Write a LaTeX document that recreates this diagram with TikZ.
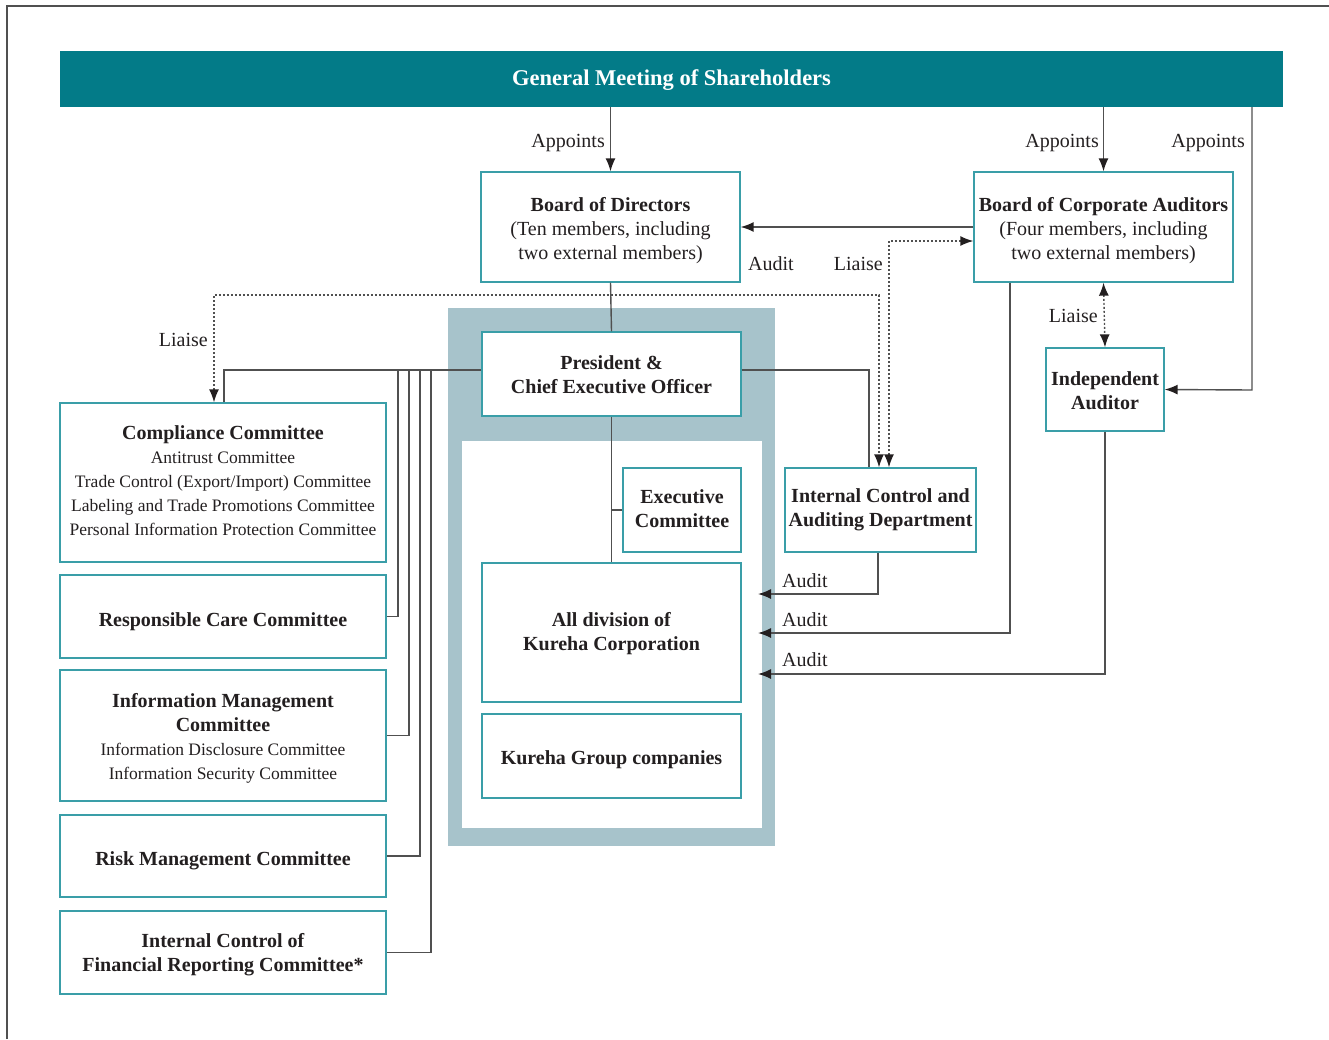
\documentclass[tikz,border=0pt]{standalone}
\usepackage{fontspec}
\setmainfont{Liberation Serif}
\usetikzlibrary{arrows.meta}
\definecolor{teal1}{HTML}{037B88}
\definecolor{boxline}{HTML}{3A9EA8}
\definecolor{conn}{HTML}{505050}
\definecolor{graybg}{HTML}{A7C3CB}
\definecolor{txt}{HTML}{231F20}
\tikzset{
  box/.style={draw=boxline, line width=1.3pt, fill=white, inner sep=0pt},
  boxtext/.style={inner sep=0pt, align=center, text=txt, font=\fontsize{20}{24}\selectfont},
  lbl/.style={text=txt, font=\fontsize{20}{24}\selectfont, inner sep=0pt},
  conline/.style={draw=conn, line width=1.4pt},
  tip/.tip={Latex[length=13pt,width=10pt,color=txt]},
  arr/.style={conline, -tip},
  darr/.style={conline, tip-tip},
  dotl/.style={dash pattern=on 2pt off 2pt},
}
\newcommand{\subc}{\fontsize{17.5}{24}\selectfont}
% \bx[shift]{name}{x,y}{width}{height}{text}
\newcommand{\bx}[6][0]{%
  \node[box, minimum width=#4pt, minimum height=#5pt] (#2) at (#3) {};
  \node[boxtext] (#2-t) at ([yshift=#1pt]#2.center) {#6};}
\begin{document}
\begin{tikzpicture}[x=1pt,y=-1pt]
\useasboundingbox (0,0) rectangle (1329,1039);
\draw[conn, line width=1.3pt] (7,1039) -- (7,6) -- (1329,6);
% background
\fill[graybg] (448,308) rectangle (775,846);
\fill[white] (462,441) rectangle (762,828);
% header
\node[fill=teal1, minimum width=1223pt, minimum height=56pt, inner sep=0pt] (gm) at (671.5,79) {};
\node[inner sep=0pt, text=white, font=\fontsize{22.5}{24}\selectfont\bfseries] (gm-t) at ([yshift=-1pt]gm.center) {General Meeting of Shareholders};
% boxes
\bx[-4]{bod}{610.5,227}{259}{110}{\textbf{Board of Directors}\\(Ten members, including\\two external members)}
\bx[-4]{bca}{1103.5,227}{259}{110}{\textbf{Board of Corporate Auditors}\\(Four members, including\\two external members)}
\bx[-1]{ia}{1105,389.5}{118}{83}{\textbf{Independent}\\\textbf{Auditor}}
\bx[-1]{pres}{611.5,374}{259}{84}{\textbf{President \&}\\\textbf{Chief Executive Officer}}
\bx[1]{exec}{682,510}{118}{84}{\textbf{Executive}\\\textbf{Committee}}
\bx[-1]{alldiv}{611.5,632.5}{259}{139}{\textbf{All division of}\\\textbf{Kureha Corporation}}
\bx[-4]{kgc}{611.5,756}{259}{84}{\textbf{Kureha Group companies}}
\bx[0]{icad}{880.5,510}{191}{84}{\textbf{Internal Control and}\\\textbf{Auditing Department}}
\bx[2]{comp}{223,482.5}{326}{159}{\textbf{Compliance Committee}\\{\subc Antitrust Committee}\\{\subc Trade Control (Export/Import) Committee}\\{\subc Labeling and Trade Promotions Committee}\\{\subc Personal Information Protection Committee}}
\bx[-5]{rc}{223,616.5}{326}{83}{\textbf{Responsible Care Committee}}
\bx[-3]{imc}{223,735.5}{326}{131}{\textbf{Information Management}\\\textbf{Committee}\\{\subc Information Disclosure Committee}\\{\subc Information Security Committee}}
\bx[-5]{rmc}{223,856}{326}{82}{\textbf{Risk Management Committee}}
\bx[-2]{icfr}{223,952.5}{326}{83}{\textbf{Internal Control of}\\\textbf{Financial Reporting Committee*}}
% coordinates
\coordinate (pl) at (224,370);
\coordinate (pr) at (869,370);
\coordinate (ialine) at (1252,390);
\coordinate (lz1) at (214,295);
\coordinate (lz2) at (879,295);
\coordinate (lz3) at (889,241);
\coordinate (v1) at (398,370);
\coordinate (v2) at (409,370);
\coordinate (v3) at (420,370);
\coordinate (v4) at (431,370);
\coordinate (b1) at (878,0);
\coordinate (b2) at (1010,0);
\coordinate (a1) at (758,594);
\coordinate (a2) at (758,633);
\coordinate (a3) at (758,674);
% appoints
\draw[arr] (gm.south -| bod.north) -- (bod.north);
\draw[arr] (gm.south -| bca.north) -- (bca.north);
\draw[arr] (gm.south -| ialine) -- (ialine) -- (ia.east);
\node[lbl, anchor=east] (ap1) at (605,143) {Appoints};
\node[lbl, anchor=east] (ap2) at (1099,143) {Appoints};
\node[lbl, anchor=east] (ap3) at (1245,143) {Appoints};
% audit BCA -> BoD
\draw[arr] (bca.west) -- (bod.east);
\node[lbl, anchor=west] (au0) at (748,264) {Audit};
% liaise
\draw[darr, dotl] (icad.north -| lz3) -- (lz3) -- (bca.west |- lz3);
\node[lbl, anchor=east] (li1) at (883,264) {Liaise};
\draw[darr, dotl] (comp.north -| lz1) -- (lz1) -- (lz2) -- (icad.north -| lz2);
\node[lbl, anchor=east] (li2) at (208,340) {Liaise};
\draw[darr, dotl] (bca.south) -- (ia.north);
\node[lbl, anchor=east] (li3) at (1098,316) {Liaise};
% president lines
\draw[conline] (bod.south) -- (pres.north);
\draw[conline] (pres.south) -- (alldiv.north);
\draw[conline] (exec.west -| pres.south) -- (exec.west);
\draw[conline] (pres.west |- pl) -- (pl) -- (comp.north -| pl);
\draw[conline] (v1) |- (rc.east);
\draw[conline] (v2) |- (imc.east);
\draw[conline] (v3) |- (rmc.east);
\draw[conline] (v4) |- (icfr.east);
\draw[conline] (pres.east |- pr) -- (pr) -- (icad.north -| pr);
% audits
\draw[arr] (icad.south -| b1) |- (a1);
\draw[arr] (bca.south -| b2) |- (a2);
\draw[arr] (ia.south) |- (a3);
\node[lbl, anchor=west] (au1) at (782,581) {Audit};
\node[lbl, anchor=west] (au2) at (782,620) {Audit};
\node[lbl, anchor=west] (au3) at (782,660) {Audit};
\end{tikzpicture}
\end{document}
